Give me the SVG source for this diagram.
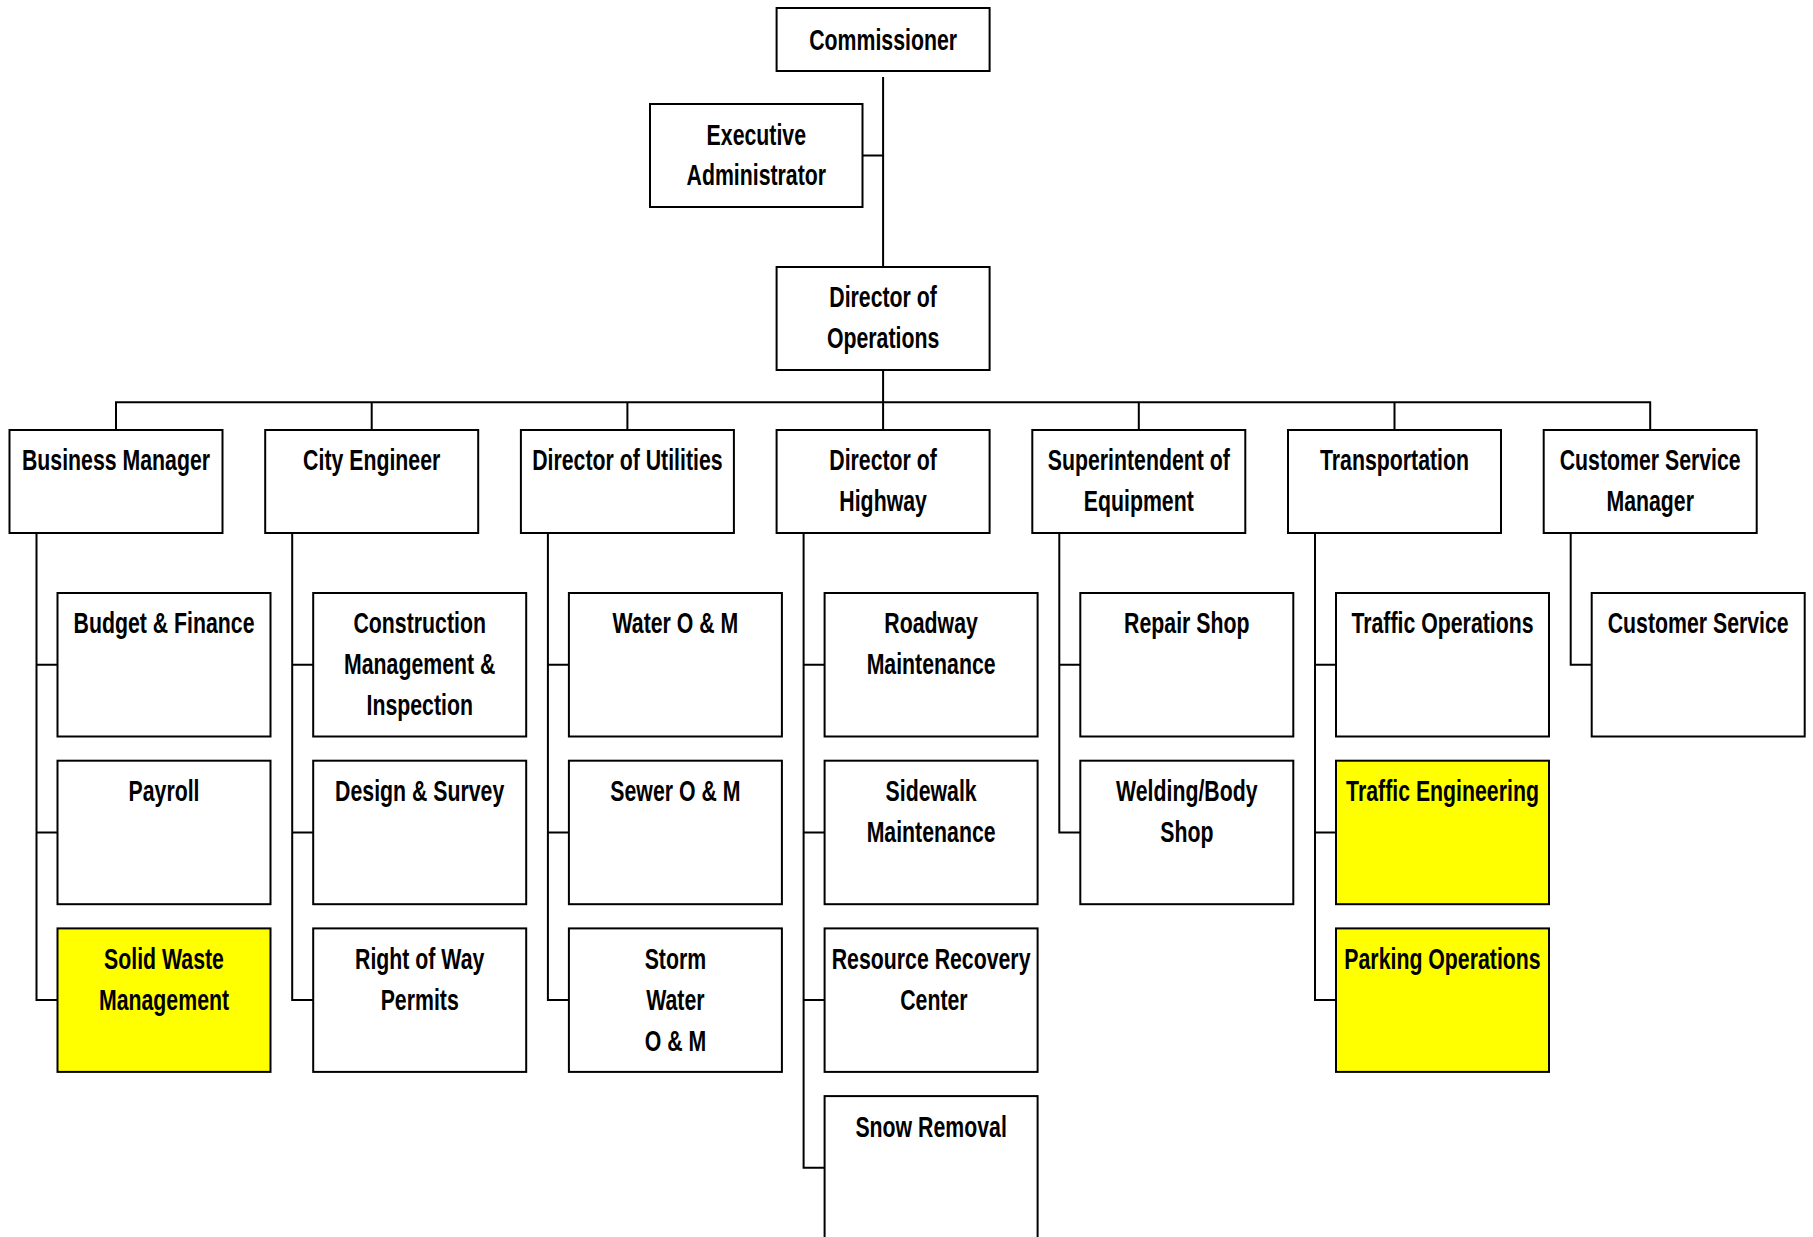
<svg xmlns="http://www.w3.org/2000/svg" width="1813" height="1237" viewBox="0 0 1813 1237">
<style>
.box{fill:#fff;stroke:#000;stroke-width:2}
.hl{fill:#ffff00}
.ln{fill:none;stroke:#000;stroke-width:2;stroke-linejoin:miter}
.t{font-family:"Liberation Sans",Arial,sans-serif;font-weight:bold;font-size:30px;text-anchor:middle;fill:#000}
</style>
<rect width="1813" height="1237" fill="#fff"/>
<g id="connectors" class="ln">
<path d="M883.1,77 V267 M862.5,155.5 H883.1 M883.1,370 V402.3"/>
<path d="M116,430 V402.3 H1650.2 V430 M371.7,402.3 V430 M627.4,402.3 V430 M883.1,402.3 V430 M1138.8,402.3 V430 M1394.5,402.3 V430"/>
<path d="M36.5,533 V1000.1 H57.5 M36.5,664.7 H57.5 M36.5,832.4 H57.5"/>
<path d="M292.2,533 V1000.1 H313.2 M292.2,664.7 H313.2 M292.2,832.4 H313.2"/>
<path d="M547.9,533 V1000.1 H568.9 M547.9,664.7 H568.9 M547.9,832.4 H568.9"/>
<path d="M803.6,533 V1167.8 H824.6 M803.6,664.7 H824.6 M803.6,832.4 H824.6 M803.6,1000.1 H824.6"/>
<path d="M1059.3,533 V832.4 H1080.3 M1059.3,664.7 H1080.3"/>
<path d="M1315,533 V1000.1 H1336 M1315,664.7 H1336 M1315,832.4 H1336"/>
<path d="M1570.7,533 V664.7 H1591.7"/>
</g>
<g id="commissioner"><rect class="box" x="776.6" y="8" width="213" height="63"/><text class="t" transform="translate(883.1 0) scale(.71 1)"><tspan x="0" y="50.5">Commissioner</tspan></text></g>
<g id="executive-administrator"><rect class="box" x="650" y="104" width="212.5" height="103"/><text class="t" transform="translate(756.3 0) scale(.71 1)"><tspan x="0" y="145">Executive</tspan><tspan x="0" y="185.5">Administrator</tspan></text></g>
<g id="director-of-operations"><rect class="box" x="776.6" y="267" width="213" height="103"/><text class="t" transform="translate(883.1 0) scale(.71 1)"><tspan x="0" y="307">Director of</tspan><tspan x="0" y="348.5">Operations</tspan></text></g>

<g id="business-manager"><rect class="box" x="9.5" y="430" width="213" height="103"/><text class="t" transform="translate(116 0) scale(.71 1)"><tspan x="0" y="470.5">Business Manager</tspan></text></g>
<g id="city-engineer"><rect class="box" x="265.2" y="430" width="213" height="103"/><text class="t" transform="translate(371.7 0) scale(.71 1)"><tspan x="0" y="470.5">City Engineer</tspan></text></g>
<g id="director-of-utilities"><rect class="box" x="520.9" y="430" width="213" height="103"/><text class="t" transform="translate(627.4 0) scale(.71 1)"><tspan x="0" y="470.5">Director of Utilities</tspan></text></g>
<g id="director-of-highway"><rect class="box" x="776.6" y="430" width="213" height="103"/><text class="t" transform="translate(883.1 0) scale(.71 1)"><tspan x="0" y="470.5">Director of</tspan><tspan x="0" y="511.5">Highway</tspan></text></g>
<g id="superintendent-of-equipment"><rect class="box" x="1032.3" y="430" width="213" height="103"/><text class="t" transform="translate(1138.8 0) scale(.71 1)"><tspan x="0" y="470.5">Superintendent of</tspan><tspan x="0" y="511.5">Equipment</tspan></text></g>
<g id="transportation"><rect class="box" x="1288" y="430" width="213" height="103"/><text class="t" transform="translate(1394.5 0) scale(.71 1)"><tspan x="0" y="470.5">Transportation</tspan></text></g>
<g id="customer-service-manager"><rect class="box" x="1543.7" y="430" width="213" height="103"/><text class="t" transform="translate(1650.2 0) scale(.71 1)"><tspan x="0" y="470.5">Customer Service</tspan><tspan x="0" y="511.5">Manager</tspan></text></g>

<g id="budget-finance"><rect class="box" x="57.5" y="593" width="213" height="143.5"/><text class="t" transform="translate(164 0) scale(.71 1)"><tspan x="0" y="633.5">Budget &amp; Finance</tspan></text></g>
<g id="payroll"><rect class="box" x="57.5" y="760.7" width="213" height="143.5"/><text class="t" transform="translate(164 0) scale(.71 1)"><tspan x="0" y="801.2">Payroll</tspan></text></g>
<g id="solid-waste-management"><rect class="box hl" x="57.5" y="928.4" width="213" height="143.5"/><text class="t" transform="translate(164 0) scale(.71 1)"><tspan x="0" y="968.9">Solid Waste</tspan><tspan x="0" y="1009.9">Management</tspan></text></g>

<g id="construction-management-inspection"><rect class="box" x="313.2" y="593" width="213" height="143.5"/><text class="t" transform="translate(419.7 0) scale(.71 1)"><tspan x="0" y="633.5">Construction</tspan><tspan x="0" y="674.5">Management &amp;</tspan><tspan x="0" y="715.5">Inspection</tspan></text></g>
<g id="design-survey"><rect class="box" x="313.2" y="760.7" width="213" height="143.5"/><text class="t" transform="translate(419.7 0) scale(.71 1)"><tspan x="0" y="801.2">Design &amp; Survey</tspan></text></g>
<g id="right-of-way-permits"><rect class="box" x="313.2" y="928.4" width="213" height="143.5"/><text class="t" transform="translate(419.7 0) scale(.71 1)"><tspan x="0" y="968.9">Right of Way</tspan><tspan x="0" y="1009.9">Permits</tspan></text></g>

<g id="water-om"><rect class="box" x="568.9" y="593" width="213" height="143.5"/><text class="t" transform="translate(675.4 0) scale(.71 1)"><tspan x="0" y="633.5">Water O &amp; M</tspan></text></g>
<g id="sewer-om"><rect class="box" x="568.9" y="760.7" width="213" height="143.5"/><text class="t" transform="translate(675.4 0) scale(.71 1)"><tspan x="0" y="801.2">Sewer O &amp; M</tspan></text></g>
<g id="storm-water-om"><rect class="box" x="568.9" y="928.4" width="213" height="143.5"/><text class="t" transform="translate(675.4 0) scale(.71 1)"><tspan x="0" y="968.9">Storm</tspan><tspan x="0" y="1009.9">Water</tspan><tspan x="0" y="1050.9">O &amp; M</tspan></text></g>

<g id="roadway-maintenance"><rect class="box" x="824.6" y="593" width="213" height="143.5"/><text class="t" transform="translate(931.1 0) scale(.71 1)"><tspan x="0" y="633.5">Roadway</tspan><tspan x="0" y="674.5">Maintenance</tspan></text></g>
<g id="sidewalk-maintenance"><rect class="box" x="824.6" y="760.7" width="213" height="143.5"/><text class="t" transform="translate(931.1 0) scale(.71 1)"><tspan x="0" y="801.2">Sidewalk</tspan><tspan x="0" y="842.2">Maintenance</tspan></text></g>
<g id="resource-recovery-center"><rect class="box" x="824.6" y="928.4" width="213" height="143.5"/><text class="t" transform="translate(931.1 0) scale(.71 1)"><tspan x="0" y="968.9">Resource Recovery</tspan><tspan x="4" y="1009.9">Center</tspan></text></g>
<g id="snow-removal"><rect class="box" x="824.6" y="1096.1" width="213" height="143.5"/><text class="t" transform="translate(931.1 0) scale(.71 1)"><tspan x="0" y="1136.6">Snow Removal</tspan></text></g>

<g id="repair-shop"><rect class="box" x="1080.3" y="593" width="213" height="143.5"/><text class="t" transform="translate(1186.8 0) scale(.71 1)"><tspan x="0" y="633.5">Repair Shop</tspan></text></g>
<g id="welding-body-shop"><rect class="box" x="1080.3" y="760.7" width="213" height="143.5"/><text class="t" transform="translate(1186.8 0) scale(.71 1)"><tspan x="0" y="801.2">Welding/Body</tspan><tspan x="0" y="842.2">Shop</tspan></text></g>

<g id="traffic-operations"><rect class="box" x="1336" y="593" width="213" height="143.5"/><text class="t" transform="translate(1442.5 0) scale(.71 1)"><tspan x="0" y="633.5">Traffic Operations</tspan></text></g>
<g id="traffic-engineering"><rect class="box hl" x="1336" y="760.7" width="213" height="143.5"/><text class="t" transform="translate(1442.5 0) scale(.71 1)"><tspan x="0" y="801.2">Traffic Engineering</tspan></text></g>
<g id="parking-operations"><rect class="box hl" x="1336" y="928.4" width="213" height="143.5"/><text class="t" transform="translate(1442.5 0) scale(.71 1)"><tspan x="0" y="968.9">Parking Operations</tspan></text></g>

<g id="customer-service"><rect class="box" x="1591.7" y="593" width="213" height="143.5"/><text class="t" transform="translate(1698.2 0) scale(.71 1)"><tspan x="0" y="633.5">Customer Service</tspan></text></g>
</svg>
